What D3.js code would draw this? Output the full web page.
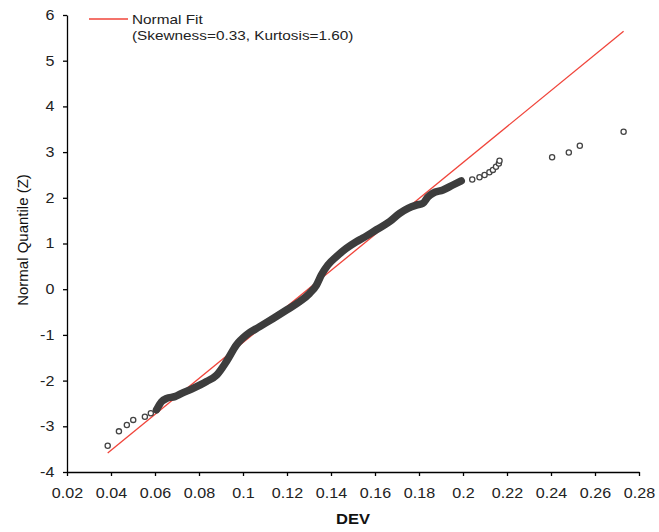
<!DOCTYPE html>
<html>
<head>
<meta charset="utf-8">
<script src="https://cdn.jsdelivr.net/npm/d3@7"></script>
<style>
	body { margin: 0; background: #fff; }
	svg { display: block; font-family: "Liberation Sans", Arial, sans-serif; }
</style>
</head>
<body>
<div id="plot"></div>
<script>
// dense part of the probability plot (markers overlap into a band)
var bandDev = [0.0607, 0.0630, 0.0653, 0.0690, 0.0721, 0.0773, 0.0834, 0.0880, 0.0925, 0.0970,
	0.1016, 0.1076, 0.1137, 0.1198, 0.1258, 0.1303, 0.1334, 0.1356, 0.1386, 0.1424,
	0.1470, 0.1515, 0.1545, 0.1606, 0.1667, 0.1712, 0.1750, 0.1788, 0.1818, 0.1841,
	0.1863, 0.1909, 0.1954, 0.1992]
var bandZ = [-2.64, -2.46, -2.39, -2.35, -2.28, -2.17, -2.02, -1.88, -1.58, -1.22,
	-1.00, -0.82, -0.64, -0.455, -0.27, -0.09, 0.09, 0.31, 0.53, 0.71,
	0.895, 1.04, 1.12, 1.30, 1.48, 1.66, 1.77, 1.84, 1.88, 2.02,
	2.10, 2.17, 2.28, 2.37]

// separate markers (tails)
var pointDev = [0.0385, 0.0436, 0.0472, 0.0501, 0.0554, 0.0581,
	0.2042, 0.2075, 0.2098, 0.2120, 0.2136, 0.2150, 0.2163, 0.2166,
	0.2405, 0.2481, 0.2531, 0.2730]
var pointZ = [-3.425, -3.11, -2.97, -2.86, -2.79, -2.715,
	2.40, 2.45, 2.50, 2.56, 2.61, 2.68, 2.75, 2.81,
	2.886, 2.99, 3.14, 3.446]

// normal fit
var fitMean = 0.1296
var fitSd = 0.0254
var legendLines = ["Normal Fit", "(Skewness=0.33, Kurtosis=1.60)"]

var xTicks = [0.02, 0.04, 0.06, 0.08, 0.1, 0.12, 0.14, 0.16, 0.18, 0.2, 0.22, 0.24, 0.26, 0.28]
var yTicks = [-4, -3, -2, -1, 0, 1, 2, 3, 4, 5, 6]

var width = 659, height = 532
var margin = {top: 15, right: 20, bottom: 60, left: 67}

var svg = d3.select("#plot").append("svg")
	.attr("width", width)
	.attr("height", height)

var x = d3.scaleLinear().domain([0.02, 0.28]).range([margin.left, width - margin.right])
var y = d3.scaleLinear().domain([-4, 6]).range([height - margin.bottom, margin.top])

// fit line across the data range
var allDev = pointDev.concat(bandDev)
var lo = d3.min(allDev), hi = d3.max(allDev)
svg.append("line")
	.attr("x1", x(lo)).attr("y1", y((lo - fitMean) / fitSd))
	.attr("x2", x(hi)).attr("y2", y((hi - fitMean) / fitSd))
	.attr("stroke", "#f0443a")
	.attr("stroke-width", 1.3)

var band = bandDev.map((d, i) => [d, bandZ[i]])
svg.append("path")
	.datum(band)
	.attr("fill", "none")
	.attr("stroke", "#3d3d3d")
	.attr("stroke-width", 7.5)
	.attr("stroke-linecap", "round")
	.attr("stroke-linejoin", "round")
	.attr("d", d3.line().x(d => x(d[0])).y(d => y(d[1])).curve(d3.curveMonotoneX))

svg.append("g")
	.selectAll("circle")
	.data(pointDev.map((d, i) => [d, pointZ[i]]))
	.enter()
	.append("circle")
		.attr("cx", d => x(d[0]))
		.attr("cy", d => y(d[1]))
		.attr("r", 2.6)
		.attr("fill", "#fff")
		.attr("stroke", "#444")
		.attr("stroke-width", 1.3)

// axes
var xAxis = svg.append("g")
	.attr("transform", "translate(0," + y(-4) + ")")
	.call(d3.axisBottom(x).tickValues(xTicks).tickSize(4).tickSizeOuter(0).tickPadding(12)
		.tickFormat(d => String(+d.toFixed(2))))
var yAxis = svg.append("g")
	.attr("transform", "translate(" + x(0.02) + ",0)")
	.call(d3.axisLeft(y).tickValues(yTicks).tickSize(4).tickSizeOuter(0).tickPadding(7)
		.tickFormat(d => String(d)))

;[xAxis, yAxis].forEach(g => {
	g.select(".domain").attr("stroke", "#000").attr("stroke-width", 1.3)
	g.selectAll(".tick line").attr("stroke", "#000").attr("stroke-width", 1.3)
	g.selectAll(".tick text")
		.attr("fill", "#222")
		.style("font-size", "14px")
		.style("font-family", '"Liberation Sans", Arial, sans-serif')
		.attr("transform", "scale(1.15,1)")
})

svg.append("text")
	.attr("transform", "translate(" + (margin.left + width - margin.right) / 2 + ",524) scale(1.14,1)")
	.attr("text-anchor", "middle")
	.style("font-size", "14.5px")
	.style("font-weight", "bold")
	.attr("fill", "#111")
	.text("DEV")

svg.append("text")
	.attr("transform", "translate(28,240) rotate(-90)")
	.attr("text-anchor", "middle")
	.style("font-size", "15px")
	.attr("fill", "#111")
	.text("Normal Quantile (Z)")

// legend
svg.append("line")
	.attr("x1", 89).attr("x2", 128)
	.attr("y1", 19).attr("y2", 19)
	.attr("stroke", "#f0443a")
	.attr("stroke-width", 1.3)
legendLines.forEach((t, i) =>
	svg.append("text")
		.attr("transform", "translate(132," + (24 + i * 16) + ") scale(1.18,1)")
		.style("font-size", "13px")
		.attr("fill", "#222")
		.text(t)
)
</script>
</body>
</html>
